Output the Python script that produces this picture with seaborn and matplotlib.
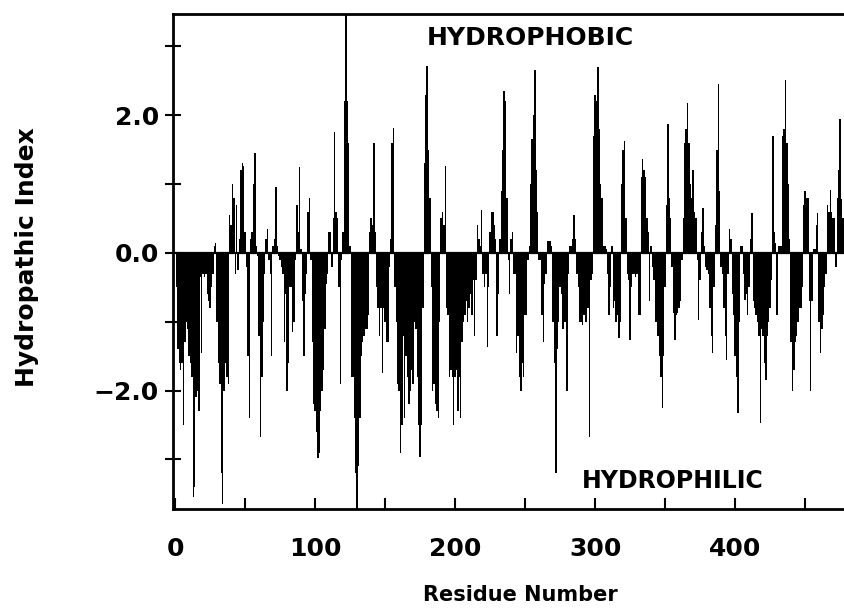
import numpy as np
import pandas as pd
import matplotlib
matplotlib.use("Agg")
import matplotlib.pyplot as plt
import seaborn as sns

# Hydropathic index per residue (residues 1..478)
hydropathy = [
    -0.5, -1.4, -1.6, -1.7, -1.6, -2.5, -1.3, -1.0, -1.1, -1.5,
    -1.6, -1.8, -3.55, -3.4, -2.1, -2.0, -2.3, -0.35, -1.45, -0.3,
    -0.35, -0.3, -0.6, -0.7, -0.8, -0.5, -0.3, 0.1, 0.15, -1.0,
    -1.6, -1.9, -3.2, -3.65, -2.0, -1.6, -1.8, -1.9, 0.55, 0.4,
    1.0, 0.8, -0.3, 0.7, -0.25, 0.2, 1.2, 1.3, 1.26, 0.3,
    -0.2, -1.5, -2.4, 0.2, 0.3, 1.0, 1.45, 0.1, -0.05, -1.2,
    -2.67, -1.8, -1.0, -0.3, 0.2, 0.35, -0.1, -0.3, -1.5, 0.1,
    0.2, 0.95, 0.1, -0.05, -0.1, -0.2, -0.3, -1.3, -0.6, -2.0,
    -1.6, -0.5, -0.5, -1.15, -1.0, -0.1, 0.7, 0.3, 1.25, 0.05,
    -0.7, -1.5, -0.6, -0.3, 0.6, 0.8, -0.1, -1.3, -2.2, -2.3,
    -2.6, -2.98, -2.9, -2.3, -2.0, -1.7, -1.1, -0.45, -0.3, 0.3,
    0.3, -0.2, 0.5, 1.75, 0.6, 0.5, -0.5, -1.9, -0.1, 0.3,
    2.2, 3.6, 2.2, 1.6, 0.1, -1.8, -1.8, -2.4, -3.2, -3.75,
    -3.1, -2.4, -1.5, -1.3, -1.2, -1.1, -1.1, -0.9, 0.3, 0.5,
    0.4, 1.6, 0.3, -0.5, -0.8, -1.2, -0.8, -1.75, -0.8, -1.0,
    -1.3, -1.3, -0.2, 0.2, 1.6, 1.82, -0.5, -1.0, -1.9, -2.0,
    -2.9, -2.5, -1.2, -2.4, -1.5, -1.8, -2.2, -2.0, -1.7, -1.9,
    -1.0, -1.1, -1.8, -2.5, -2.96, -2.5, -0.8, 1.3, 2.3, 2.72,
    1.5, 0.8, -0.5, -2.0, -1.9, -2.2, -2.3, -2.4, -1.0, 0.5,
    0.6, 0.4, 1.26, -0.8, -0.9, -1.8, -1.7, -1.8, -2.5, -1.8,
    -1.7, -2.3, -1.8, -2.4, -1.3, -1.0, -0.9, -0.7, -1.0, -0.8,
    -0.6, -0.9, -0.4, -1.2, -0.4, 0.4, 0.2, 0.1, 0.63, -0.3,
    -0.5, -0.3, -1.36, -0.5, 0.3, 0.6, 0.6, 0.4, 0.2, -1.2,
    -0.6, 0.2, 0.9, 1.5, 2.35, 2.2, 0.8, -0.1, -0.6, 0.2,
    0.3, -0.3, -0.3, -1.45, -1.2, -1.8, -2.0, -1.6, -1.8, -0.9,
    -0.9, -0.1, 0.1, 1.0, 1.65, 2.0, 2.65, 1.2, 0.6, -0.1,
    -0.1, -0.9, -1.3, -0.45, -0.3, 0.17, 0.17, 0.17, 0.1, -1.0,
    -1.6, -3.2, -1.4, -1.0, -0.5, -0.6, -1.1, -1.0, -1.0, -2.0,
    -0.3, 0.1, 0.1, 0.2, 0.55, 0.2, -0.3, -0.5, -1.0, -1.0,
    -1.05, -0.9, -1.0, -1.0, -0.8, -2.67, -0.4, -0.3, 1.7, 2.3,
    2.2, 2.7, 1.8, 1.0, 0.8, 0.1, 0.1, 0.05, -0.3, -0.9,
    -0.5, 0.1, -0.8, -0.7, -1.0, -0.9, -1.24, -1.0, 1.0, 1.5,
    1.63, 0.5, -0.3, -0.4, -1.26, -0.5, -0.3, -0.3, -0.35, -0.3,
    -0.9, -0.9, 1.1, 1.36, 1.2, 1.1, 0.5, 0.3, -0.7, 0.1,
    -0.2, -0.4, -1.0, -1.0, -1.2, -1.5, -1.8, -2.25, -1.5, -0.5,
    0.7, 1.87, 0.8, 0.5, -0.2, -0.87, -1.26, -0.9, -0.87, -0.8,
    -0.7, -0.1, 0.5, 1.6, 1.8, 2.18, 1.6, 1.0, 0.8, 1.2,
    0.6, 0.5, -0.1, -0.97, -0.4, 0.3, 0.65, 0.1, -0.2, -0.25,
    -0.3, -0.8, -1.2, -1.45, -0.5, 0.4, 1.5, 2.45, 0.9, -0.2,
    -0.3, -0.8, -1.2, -1.55, -0.3, 0.35, 0.2, -0.6, -0.9, -1.5,
    -1.8, -2.33, -1.0, 0.1, 0.1, -0.3, -0.68, -0.6, -0.9, -0.5,
    0.2, 0.58, -0.7, -0.8, -0.9, -1.0, -1.2, -2.47, -1.1, -1.2,
    -1.6, -1.85, -1.2, -1.0, -0.8, -0.4, 1.7, 0.3, 0.15, -0.9,
    0.1, 0.1, 0.1, 1.7, 1.8, 2.51, 1.6, 1.0, 0.2, -1.3,
    -2.0, -1.7, -1.3, -1.2, -1.0, -0.8, -0.8, -0.5, 0.7, 0.9,
    0.8, 0.8, -0.7, -2.0, -0.7, 0.05, 0.05, 0.4, 0.58, -1.0,
    -1.45, -1.1, -0.9, -0.5, -0.3, 0.7, 0.6, 0.92, 0.6, 0.5,
    0.5, -0.2, 0.8, 1.2, 1.94, 0.78, 0.5, -0.3,
]
residues = list(range(1, len(hydropathy) + 1))

x_tick_positions = [0, 50, 100, 150, 200, 250, 300, 350, 400, 450]
x_tick_labels = ["0", "", "100", "", "200", "", "300", "", "400", ""]
y_tick_positions = [-3, -2, -1, 0, 1, 2, 3]
y_tick_labels = ["", "\u22122.0", "", "0.0", "", "2.0", ""]

df = pd.DataFrame({"Residue": residues, "Index": hydropathy})

sns.set_style("white")
plt.rcParams["font.family"] = ["DejaVu Sans"]
plt.rcParams["text.color"] = "black"
plt.rcParams["xtick.color"] = "black"
plt.rcParams["ytick.color"] = "black"

fig = plt.figure(figsize=(8.45, 6.09), dpi=100)
ax = fig.add_axes([173 / 845, 1 - 509 / 609, 1 - 173 / 845, (509 - 14) / 609])

sns.barplot(data=df, x="Residue", y="Index", native_scale=True,
            color="black", saturation=1, width=1.0, linewidth=0,
            errorbar=None, ax=ax)

ax.axhline(0, color="black", lw=1.6, zorder=3)

ax.set_xlim(-1.5, 478.5)
ax.set_ylim(-3.72, 3.47)

ax.set_xticks(x_tick_positions)
ax.set_xticklabels(x_tick_labels)
ax.set_yticks(y_tick_positions)
ax.set_yticklabels(y_tick_labels)

ax.tick_params(axis="x", direction="in", length=8, width=1.5, pad=20,
               labelsize=18, bottom=True, colors="black")
ax.tick_params(axis="y", direction="inout", length=12, width=1.5, pad=4,
               labelsize=18, left=True, colors="black")
for lab in ax.get_xticklabels() + ax.get_yticklabels():
    lab.set_fontweight("bold")

for s in ["left", "bottom", "top"]:
    ax.spines[s].set_linewidth(2)
    ax.spines[s].set_color("black")
ax.spines["right"].set_visible(False)

ax.set_xlabel("")
ax.set_ylabel("")
fig.text(520 / 845, 1 - 595 / 609, "Residue Number", ha="center",
         va="center", fontsize=15, fontweight="bold", color="black")
fig.text(27 / 845, 1 - 257 / 609, "Hydropathic Index", ha="center",
         va="center", rotation=90, fontsize=18, fontweight="bold", color="black")

fig.text(530 / 845, 1 - 38 / 609, "HYDROPHOBIC", ha="center", va="center",
         fontsize=18, fontweight="bold", color="black")
fig.text(673 / 845, 1 - 481 / 609, "HYDROPHILIC", ha="center", va="center",
         fontsize=17, fontweight="bold", color="black")

fig.savefig("out.png", dpi=100, facecolor="white")
